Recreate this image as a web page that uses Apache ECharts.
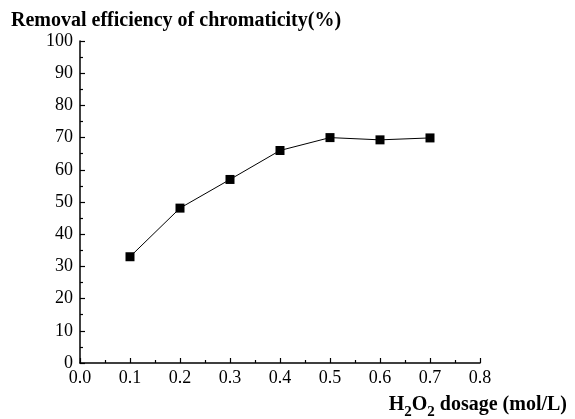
<!DOCTYPE html>
<html>
<head>
<meta charset="utf-8">
<script src="https://cdn.jsdelivr.net/npm/echarts@6/dist/echarts.min.js"></script>
<style>html,body{margin:0;padding:0;background:#fff}#c{width:575px;height:419px}</style>
</head>
<body>
<div id="c"></div>
<script>
var xValues = [0.1, 0.2, 0.3, 0.4, 0.5, 0.6, 0.7];
var removalEfficiency = [33.0, 48.1, 57.0, 66.0, 70.0, 69.3, 69.9];
var yTitle = 'Removal efficiency of chromaticity(%)';

var font = '"Liberation Serif", "Times New Roman", serif';
var chart = echarts.init(document.getElementById('c'));
chart.setOption({
  animation: false,
  backgroundColor: '#fff',
  title: [{
    text: yTitle,
    left: 6, top: 6,
    textStyle: {fontFamily: font, fontWeight: 'bold', fontSize: 20, color: '#000'}
  }, {
    text: '{b|H}{s|2}{b|O}{s|2}{b| dosage (mol/L)}',
    right: 3, top: 390,
    textStyle: {
      rich: {
        b: {fontFamily: font, fontWeight: 'bold', fontSize: 20, color: '#000', verticalAlign: 'bottom', padding: [0, 0, 5, 0]},
        s: {fontFamily: font, fontWeight: 'bold', fontSize: 15, color: '#000', verticalAlign: 'bottom'}
      }
    }
  }],
  grid: {left: 80, right: 95, top: 41, bottom: 56, containLabel: false},
  xAxis: {
    type: 'value', min: 0, max: 0.8, interval: 0.1,
    axisLine: {lineStyle: {color: '#000', width: 1.5}},
    axisTick: {inside: true, length: 5, lineStyle: {color: '#000', width: 1.2}},
    minorTick: {show: true, splitNumber: 2, length: 3, lineStyle: {color: '#000', width: 1.2}},
    splitLine: {show: false},
    axisLabel: {fontFamily: font, fontSize: 18, color: '#000', margin: 6,
      formatter: function (v) { return v.toFixed(1); }}
  },
  yAxis: {
    type: 'value', min: 0, max: 100, interval: 10,
    axisLine: {show: true, lineStyle: {color: '#000', width: 1.5}},
    axisTick: {show: true, inside: true, length: 5, lineStyle: {color: '#000', width: 1.2}},
    minorTick: {show: true, splitNumber: 2, length: 3, lineStyle: {color: '#000', width: 1.2}},
    splitLine: {show: false},
    axisLabel: {fontFamily: font, fontSize: 18, color: '#000', margin: 7}
  },
  series: [{
    type: 'line',
    data: xValues.map(function (x, i) { return [x, removalEfficiency[i]]; }),
    symbol: 'rect', symbolSize: 9,
    itemStyle: {color: '#000'},
    lineStyle: {color: '#000', width: 1}
  }]
});
</script>
</body>
</html>
